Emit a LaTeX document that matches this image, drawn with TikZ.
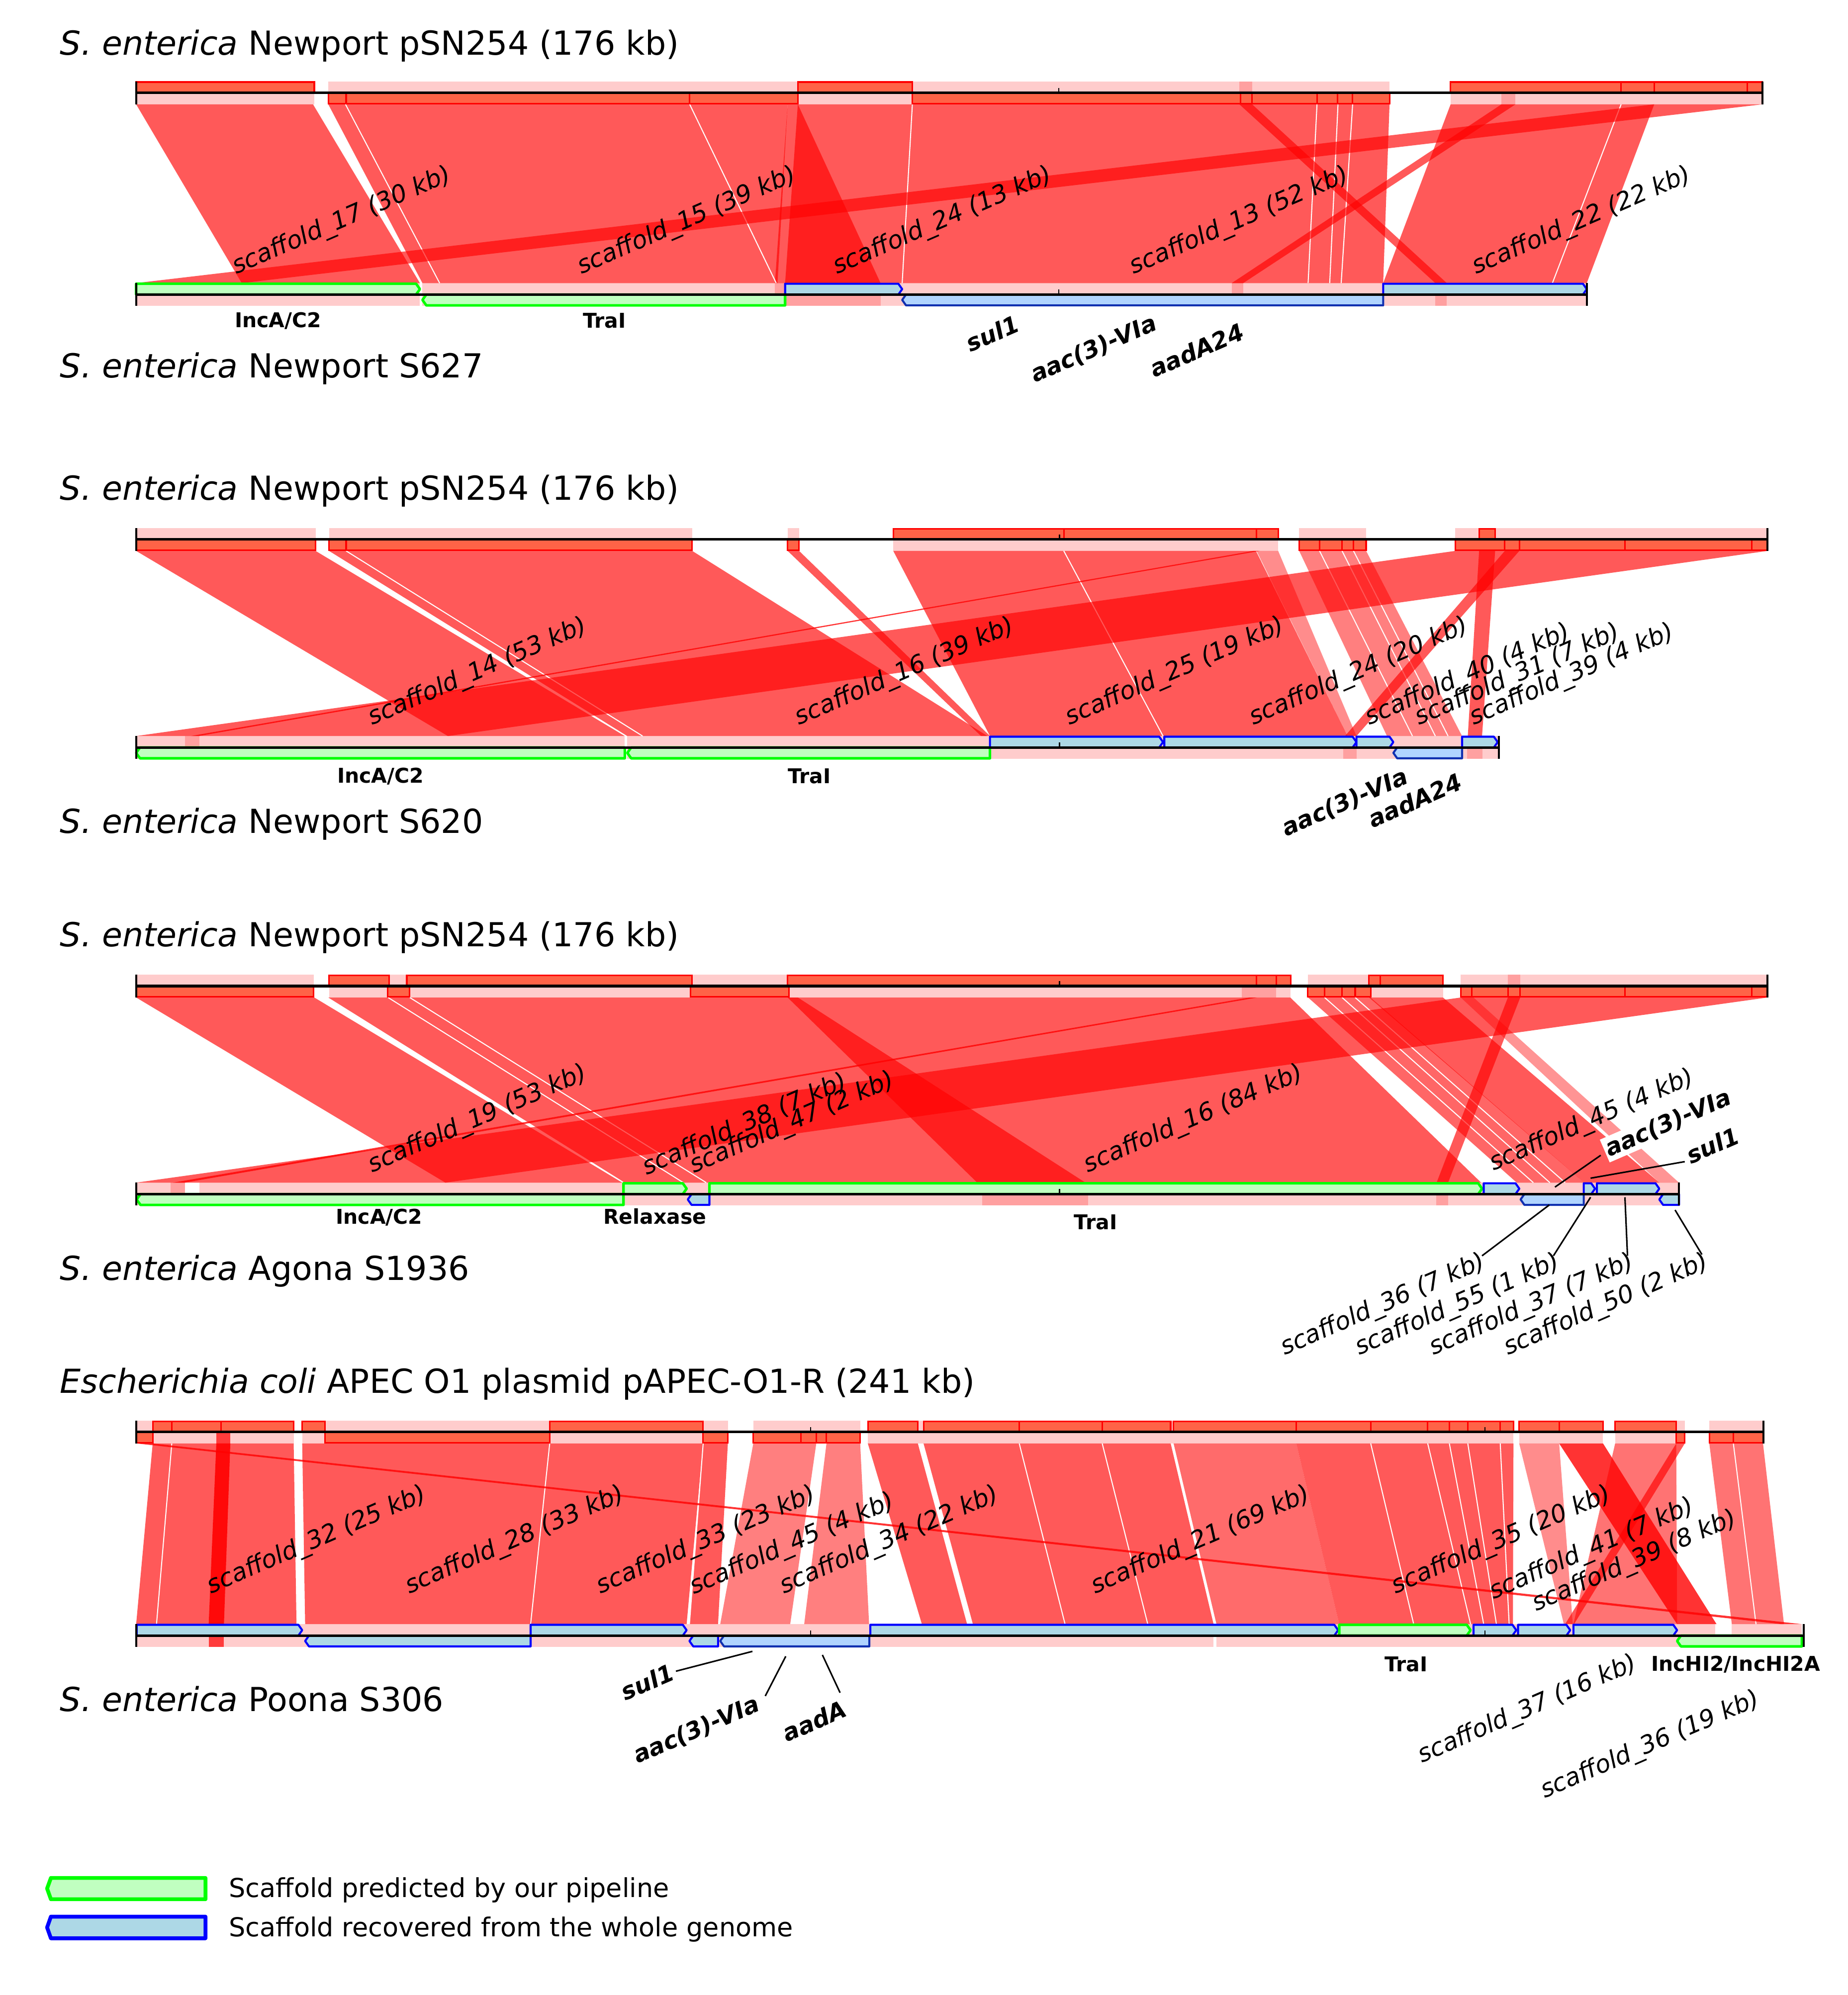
\documentclass[tikz,border=0pt]{standalone}
\usepackage{fontspec}
\setmainfont{DejaVu Sans}
\definecolor{tomatoc}{HTML}{FF6347}
\definecolor{pinkc}{HTML}{FFCCCC}
\definecolor{pinkd}{HTML}{FFA0A0}
\definecolor{gfill}{HTML}{C0FFC0}
\definecolor{gline}{HTML}{00FF00}
\definecolor{bfill}{HTML}{ADD8E6}
\definecolor{bfilltwo}{HTML}{B0D4FF}
\definecolor{bline}{HTML}{0000FF}
\definecolor{blinetwo}{HTML}{1030B0}
\tikzset{
  tblk/.style={fill=tomatoc, draw=red, line width=1.2pt},
  gblk/.style={fill=gfill, draw=gline, line width=2pt, line join=round},
  bblk/.style={fill=bfill, draw=bline, line width=1.6pt, line join=round},
  cblk/.style={fill=bfilltwo, draw=blinetwo, line width=1.6pt, line join=round},
  lnk/.style={fill=red, fill opacity=0.65},
  scl/.style={font=\fontsize{19.3}{22}\selectfont\itshape, rotate=23.5, inner sep=0pt},
  gen/.style={font=\fontsize{18.5}{22}\selectfont\bfseries\itshape, rotate=23.5, inner sep=0pt},
  gnh/.style={font=\fontsize{16}{19}\selectfont\bfseries, inner sep=0pt},
  ttl/.style={font=\fontsize{26}{30}\selectfont, anchor=base west, inner sep=0pt},
  lgd/.style={font=\fontsize{20.5}{24}\selectfont, anchor=base west, inner sep=0pt},
  leader/.style={draw=black, line width=1.2pt},
}
% top track blocks
\newcommand{\tA}[2]{\filldraw[tblk] (#1,\YA-8.5) rectangle (#2,\YA);}
\newcommand{\tB}[2]{\filldraw[tblk] (#1,\YA) rectangle (#2,\YA+8.5);}
% pink shading
\newcommand{\pkT}[2]{\fill[pinkc] (#1,\YA-9) rectangle (#2,\YA+9);}
\newcommand{\pkB}[2]{\fill[pinkc] (#1,\YB-9) rectangle (#2,\YB+9);}
\newcommand{\pkd}[4]{\fill[pinkd] (#1,#3) rectangle (#2,#4);}
% bottom track blocks
\newcommand{\gA}[2]{\filldraw[gblk] (#1,\YB-8.5) -- (#2-3,\YB-8.5) -- (#2,\YB-4.25) -- (#2-3,\YB) -- (#1,\YB) -- cycle;}
\newcommand{\gB}[2]{\filldraw[gblk] (#1+3,\YB) -- (#2,\YB) -- (#2,\YB+8.5) -- (#1+3,\YB+8.5) -- (#1,\YB+4.25) -- cycle;}
\newcommand{\bA}[2]{\filldraw[bblk] (#1,\YB-8.5) -- (#2-3,\YB-8.5) -- (#2,\YB-4.25) -- (#2-3,\YB) -- (#1,\YB) -- cycle;}
\newcommand{\bB}[2]{\filldraw[bblk] (#1+3,\YB) -- (#2,\YB) -- (#2,\YB+8.5) -- (#1+3,\YB+8.5) -- (#1,\YB+4.25) -- cycle;}
\newcommand{\bC}[2]{\filldraw[cblk] (#1+3,\YB) -- (#2,\YB) -- (#2,\YB+8.5) -- (#1+3,\YB+8.5) -- (#1,\YB+4.25) -- cycle;}
% links
\newcommand{\lk}[4]{\fill[lnk] (#1,\YA+9) -- (#2,\YA+9) -- (#4,\YB-9) -- (#3,\YB-9) -- cycle;}
\newcommand{\lko}[5]{\fill[red, fill opacity=#1] (#2,\YA+9) -- (#3,\YA+9) -- (#5,\YB-9) -- (#4,\YB-9) -- cycle;}
\newcommand{\wl}[2]{\draw[white, line width=0.8pt] (#1,\YA+9) -- (#2,\YB-9);}
% axes
\newcommand{\ax}[3]{\draw[line width=2pt] (#1,#3) -- (#2,#3); \draw[line width=1.5pt] (#1,#3-9) -- (#1,#3+9) (#2,#3-9) -- (#2,#3+9);}
\newcommand{\smt}[2]{\draw[line width=1pt] (#1,#2) -- (#1,#2-4);}
\begin{document}
\begin{tikzpicture}[x=1pt,y=-1pt]
\useasboundingbox (0,0) rectangle (1452,1568);

%================ PANEL 1 ================
\def\YA{73}\def\YB{231.5}
\node[ttl] (t1) at (47,43) {\textit{S. enterica} Newport pSN254 (176 kb)};
\node[ttl] (t2) at (47,297) {\textit{S. enterica} Newport S627};
\pkT{107}{247}\pkT{258}{627}\pkT{627}{717}\pkT{717}{1092}\pkT{1140}{1385}
\pkd{974}{984}{\YA-9}{\YA}\pkd{1180}{1191}{\YA}{\YA+9}
\pkB{107}{330}\pkB{332}{617}\pkB{617}{709}\pkB{709}{1087}\pkB{1087}{1247}
\pkd{617}{692}{\YB}{\YB+9}\pkd{609}{617}{\YB-9}{\YB}\pkd{968}{977}{\YB-9}{\YB}\pkd{1128}{1137}{\YB}{\YB+9}
\lk{107}{246}{190}{330}
\lk{258}{619}{332}{611}
\lk{619}{627}{609}{692}
\lk{627}{717}{617}{709}
\lk{717}{1092}{709}{1087}
\lk{1140}{1300}{1087}{1247}
\wl{271.5}{345.5}\wl{542}{610}\wl{717}{709}\wl{1035}{1028}\wl{1051.5}{1045}\wl{1063}{1054}\wl{1274}{1220}
\lk{974}{984}{1128}{1137}
\lk{1180}{1191}{968}{977}
\lk{1300}{1385}{107}{190}
\tA{107}{247}
\tB{258}{272}\tB{272}{542}\tB{542}{627}
\tA{627}{717}
\tB{717}{975}\tB{975}{984}\tB{984}{1035}\tB{1035}{1051}\tB{1051}{1063}\tB{1063}{1092}
\tA{1140}{1274}\tA{1274}{1300}\tA{1300}{1373}\tA{1373}{1385}
\ax{107}{1385}{\YA}\smt{832}{\YA}
\gA{107}{330}\gB{332}{617}\bA{617}{709}\bC{709}{1087}\bA{1087}{1247}
\ax{107}{1247}{\YB}\smt{832}{\YB}
\node[scl] (p1s17) at (268.7,174) {scaffold\_17 (30 kb)};
\node[scl] (p1s15) at (540,174) {scaffold\_15 (39 kb)};
\node[scl] (p1s24) at (740.8,174) {scaffold\_24 (13 kb)};
\node[scl] (p1s13) at (974,174) {scaffold\_13 (52 kb)};
\node[scl] (p1s22) at (1243,174) {scaffold\_22 (22 kb)};
\node[gnh] (p1g1) at (218.5,252) {IncA/C2};
\node[gnh] (p1g2) at (475,252) {TraI};
\node[gen] (p1g3) at (780,262) {sul1};
\node[gen] (p1g4) at (859.6,274.5) {aac(3)-VIa};
\node[gen] (p1g5) at (940.5,275) {aadA24};

%================ PANEL 2 ================
\def\YA{424}\def\YB{587.5}
\node[ttl] (t3) at (47,393) {\textit{S. enterica} Newport pSN254 (176 kb)};
\node[ttl] (t4) at (47,655) {\textit{S. enterica} Newport S620};
\pkT{107}{248}\pkT{258.6}{544}\pkT{619}{628}\pkT{702}{1004.5}\pkT{1021}{1073.6}\pkT{1143.6}{1389}
\pkB{107}{491}\pkB{493}{778}\pkB{778}{1177}
\pkd{145.5}{156.7}{\YB-9}{\YB}\pkd{1055.6}{1066}{\YB}{\YB+9}\pkd{1153}{1165}{\YB}{\YB+9}
\lk{107}{248}{352}{491}
\lk{258.6}{544}{493}{776}
\lk{619}{628}{771}{778}
\lk{702}{987}{778}{1059}
\lko{0.45}{987.5}{1004.5}{1059}{1066}
\lko{0.5}{1021}{1073.6}{1090}{1149}
\wl{272}{505}\wl{836}{914}\wl{1037}{1110}\wl{1054.7}{1128}\wl{1063.7}{1138}
\lk{1162.4}{1175}{1153.5}{1164.7}
\lk{1182.6}{1194}{1057}{1066}
\lk{1143.6}{1389}{107}{352}
\lko{0.8}{985}{990}{150}{156}
\tB{107}{248}\tB{258.6}{272}\tB{272}{544}\tB{619}{628}
\tA{702}{836}\tA{836}{987.5}\tA{987.5}{1004.5}
\tB{1021}{1037}\tB{1037}{1054.7}\tB{1054.7}{1063.7}\tB{1063.7}{1073.6}
\tA{1162.4}{1175}
\tB{1143.6}{1182.6}\tB{1182.6}{1194}\tB{1194}{1277}\tB{1277}{1376.5}\tB{1376.5}{1389}
\ax{107}{1389}{\YA}\smt{832.6}{\YA}
\gB{107}{491}\gB{493}{778}\bA{778}{914}\bA{915}{1066}\bA{1066}{1095}\bC{1095}{1149}\bA{1149}{1177}
\ax{107}{1178}{\YB}\smt{832.6}{\YB}
\node[scl] (p2s14) at (375.5,528.5) {scaffold\_14 (53 kb)};
\node[scl] (p2s16) at (711,528.4) {scaffold\_16 (39 kb)};
\node[scl] (p2s25) at (923.5,528.3) {scaffold\_25 (19 kb)};
\node[scl] (p2s24) at (1068,528.3) {scaffold\_24 (20 kb)};
\node[scl] (p2s40) at (1153.5,531) {scaffold\_40 (4 kb)};
\node[scl] (p2s31) at (1192.7,531) {scaffold\_31 (7 kb)};
\node[scl] (p2s39) at (1235.4,531) {scaffold\_39 (4 kb)};
\node[gnh] (p2g1) at (299,610) {IncA/C2};
\node[gnh] (p2g2) at (636,610) {TraI};
\node[gen] (p2g3) at (1057,631) {aac(3)-VIa};
\node[gen] (p2g4) at (1112,629) {aadA24};

%================ PANEL 3 ================
\def\YA{775}\def\YB{938.5}
\node[ttl] (t5) at (47,744) {\textit{S. enterica} Newport pSN254 (176 kb)};
\node[ttl] (t6) at (47,1006) {\textit{S. enterica} Agona S1936};
\pkT{107}{246.5}\pkT{258.6}{1014.3}\pkT{1027.8}{1134}\pkT{1148}{1389}
\pkd{976}{1003}{\YA}{\YA+9}\pkd{1185}{1194.7}{\YA-9}{\YA}
\pkB{107}{1319.5}
\fill[white] (145.5,\YB-9) rectangle (156.7,\YB);
\pkd{134}{145.5}{\YB-9}{\YB}\pkd{772}{855}{\YB}{\YB+9}\pkd{1128.8}{1138}{\YB}{\YB+9}
\lk{107}{247}{350}{489}
\lk{258}{1014}{491}{1164}
\lk{619}{627}{768}{853}
\lko{0.6}{1028}{1077}{1192}{1245}
\lk{1076}{1134}{1245}{1304}
\lko{0.42}{1148}{1158}{1304}{1319.5}
\wl{305}{537}\wl{322}{555}\wl{1041}{1205}\wl{1054.7}{1218}\wl{1065}{1230}
\lk{1185}{1194.7}{1129}{1138}
\lk{1148}{1389}{107}{350}
\lko{0.8}{982}{988}{136}{145}
\tB{107.4}{246.5}\tA{258.6}{305.7}\tB{304.8}{321.9}\tA{319.7}{544}\tB{542.7}{620}
\tA{619}{987.4}\tA{987.4}{1003}\tA{1003}{1014.3}
\tB{1027.8}{1041}\tB{1041}{1054.7}\tB{1054.7}{1065}\tB{1065}{1077.2}
\tA{1075.8}{1084.8}\tA{1084.8}{1134}
\tB{1148}{1156.6}\tB{1156.6}{1185}\tB{1185}{1194.7}\tB{1194.7}{1277}\tB{1277}{1376.5}\tB{1376.5}{1389}
\ax{107}{1389}{\YA}\smt{832.6}{\YA}
\gB{107.4}{490}\gA{490}{539.6}\bB{540.5}{557.5}\gA{557.5}{1164.7}\bA{1166}{1194}\bC{1195}{1244.6}\bA{1244.6}{1253.5}\bA{1255}{1304}\bB{1304}{1319.5}
\ax{107}{1319.5}{\YB}\smt{832.6}{\YB}
\node[scl] (p3s19) at (375.5,880) {scaffold\_19 (53 kb)};
\node[scl] (p3s38) at (585.5,884.4) {scaffold\_38 (7 kb)};
\node[scl] (p3s47) at (622.6,883) {scaffold\_47 (2 kb)};
\node[scl] (p3s16) at (938,880) {scaffold\_16 (84 kb)};
\node[scl] (p3s45) at (1251,881) {scaffold\_45 (4 kb)};
\node[gen, fill=white, inner sep=1.5pt] (p3g1) at (1311,883) {aac(3)-VIa};
\node[gen, fill=white, inner sep=1.5pt] (p3g2) at (1346,900) {sul1};
\node[gnh] (p3g3) at (298,957) {IncA/C2};
\node[gnh] (p3g4) at (514.7,956) {Relaxase};
\node[gnh] (p3g5) at (861,960.5) {TraI};
\node[scl] (p3s36) at (1087,1026) {scaffold\_36 (7 kb)};
\node[scl] (p3s55) at (1145.5,1026) {scaffold\_55 (1 kb)};
\node[scl] (p3s37) at (1203.8,1026) {scaffold\_37 (7 kb)};
\node[scl] (p3s50) at (1262.4,1026) {scaffold\_50 (2 kb)};
\coordinate (p3a1) at (1258,908); \coordinate (p3a2) at (1222,933);
\coordinate (p3b1) at (1324,913); \coordinate (p3b2) at (1250,926);
\coordinate (p3c1) at (1164.7,987); \coordinate (p3c2) at (1217.6,947);
\coordinate (p3d1) at (1220.8,987); \coordinate (p3d2) at (1250,941);
\coordinate (p3e1) at (1279,987); \coordinate (p3e2) at (1277,941);
\coordinate (p3f1) at (1337.5,986); \coordinate (p3f2) at (1316.4,951);
\draw[leader] (p3a1) -- (p3a2);
\draw[leader] (p3b1) -- (p3b2);
\draw[leader] (p3c1) -- (p3c2);
\draw[leader] (p3d1) -- (p3d2);
\draw[leader] (p3e1) -- (p3e2);
\draw[leader] (p3f1) -- (p3f2);

%================ PANEL 4 ================
\def\YA{1125.5}\def\YB{1285.5}
\node[ttl] (t7) at (47,1095) {\textit{Escherichia coli} APEC O1 plasmid pAPEC-O1-R (241 kb)};
\node[ttl] (t8) at (47,1345) {\textit{S. enterica} Poona S306};
\pkT{107}{230.8}\pkT{237.5}{572}\pkT{592}{676}\pkT{682}{1189.4}\pkT{1193.9}{1259.8}\pkT{1269.3}{1324}\pkT{1343.3}{1385.5}
\pkB{107}{953.7}\pkB{956}{1416}
\fill[white] (1348,\YB-9) rectangle (1361,\YB);
\fill[red, fill opacity=0.7] (170,\YA-9) rectangle (181,\YA+9);
\fill[red, fill opacity=0.7] (164,\YB-9) rectangle (176,\YB+9);
\lk{120}{230.8}{107}{233}
\lk{237.5}{432}{239.8}{417}
\lk{432}{552.6}{417}{539.6}
\lk{552.6}{572}{541.8}{564.3}
\lko{0.5}{592}{641.5}{566}{621}
\lko{0.5}{649.5}{676}{632}{683}
\lk{682}{721.3}{724.5}{760}
\lk{725.8}{920}{764.6}{953.7}
\lko{0.58}{922.3}{1018.8}{956}{1052.5}
\lk{1018.8}{1189.4}{1052.5}{1189}
\lko{0.45}{1193.9}{1225.3}{1229}{1236}
\lko{0.55}{1269.3}{1317.3}{1236.5}{1318}
\lko{0.55}{1343.3}{1385.5}{1361}{1402}
\wl{135}{123}\wl{432}{417}\wl{552.6}{541.8}\wl{801}{837}\wl{866.2}{902}\wl{1077.2}{1111}\wl{1122}{1155.7}\wl{1139}{1166}\wl{1153.5}{1176}\wl{1179}{1186}\wl{1362.2}{1380}
\lko{0.8}{1225.3}{1259.8}{1318}{1349}
\lk{1317.3}{1324}{1230}{1237}
\lko{0.9}{170}{181}{164}{176}
\lko{0.8}{107.4}{120}{1400}{1416}
\tB{107.4}{120}
\tA{120}{135}\tA{135}{173.8}\tA{173.8}{230.8}
\tA{237.5}{255.5}
\tB{255.5}{432}
\tA{432}{552.6}
\tB{552.6}{572}
\tB{592}{629.3}\tB{629.3}{641.5}\tB{641.5}{649.5}\tB{649.5}{676}
\tA{682}{721.3}
\tA{725.8}{801}\tA{801}{866.2}\tA{866.2}{920}
\tA{922.3}{1018.8}\tA{1018.8}{1077.2}\tA{1077.2}{1122}\tA{1122}{1139}\tA{1139}{1153.5}\tA{1153.5}{1179}\tA{1179}{1189.4}
\tA{1193.9}{1225.3}\tA{1225.3}{1259.8}
\tA{1269.3}{1317.3}
\tB{1317.3}{1324}
\tB{1343.3}{1362.2}\tB{1362.2}{1385.5}
\ax{107}{1386}{\YA}\smt{637}{\YA}\smt{1167}{\YA}
\bA{107.4}{237.5}\bB{239.8}{417}\bA{417}{539.6}\bB{541.8}{564.3}\bC{566}{683.2}\bA{684}{1051.6}\gA{1052.5}{1155.7}\bA{1158}{1191.6}\bA{1193}{1234}\bA{1236.5}{1318}\gB{1318}{1416}
\ax{107}{1417.4}{\YB}\smt{637}{\YB}\smt{1167}{\YB}
\node[scl] (p4s32) at (249,1211) {scaffold\_32 (25 kb)};
\node[scl] (p4s28) at (404.7,1211) {scaffold\_28 (33 kb)};
\node[scl] (p4s33) at (555,1211) {scaffold\_33 (23 kb)};
\node[scl] (p4s45) at (622.7,1214) {scaffold\_45 (4 kb)};
\node[scl] (p4s34) at (699,1211) {scaffold\_34 (22 kb)};
\node[scl] (p4s21) at (943.6,1211) {scaffold\_21 (69 kb)};
\node[scl] (p4s35) at (1180,1211) {scaffold\_35 (20 kb)};
\node[scl] (p4s41) at (1251,1218) {scaffold\_41 (7 kb)};
\node[scl] (p4s39) at (1284.7,1227.5) {scaffold\_39 (8 kb)};
\node[scl] (p4s37) at (1200.6,1344) {scaffold\_37 (16 kb)};
\node[scl] (p4s36) at (1297,1372) {scaffold\_36 (19 kb)};
\node[gnh] (p4g1) at (1105,1308) {TraI};
\node[gnh] (p4g2) at (1364,1308) {IncHI2/IncHI2A};
\node[gen] (p4g3) at (508.7,1322) {sul1};
\node[gen] (p4g4) at (547.4,1359.8) {aac(3)-VIa};
\node[gen] (p4g5) at (640,1352.6) {aadA};
\coordinate (p4a1) at (531.2,1313.5); \coordinate (p4a2) at (591.3,1297.9);
\coordinate (p4b1) at (601.4,1333); \coordinate (p4b2) at (617.5,1301.8);
\coordinate (p4c1) at (660.2,1330.4); \coordinate (p4c2) at (646.3,1300.7);
\draw[leader] (p4a1) -- (p4a2);
\draw[leader] (p4b1) -- (p4b2);
\draw[leader] (p4c1) -- (p4c2);

%================ LEGEND ================
\filldraw[gblk, line width=3pt] (40,1476) -- (161.5,1476) -- (161.5,1492.7) -- (40,1492.7) -- (37,1484.3) -- cycle;
\filldraw[bblk, line width=3pt] (40,1506.4) -- (161.5,1506.4) -- (161.5,1523.4) -- (40,1523.4) -- (37,1514.9) -- cycle;
\node[lgd] (lg1) at (179.8,1491) {Scaffold predicted by our pipeline};
\node[lgd] (lg2) at (179.8,1522) {Scaffold recovered from the whole genome};
\end{tikzpicture}
\end{document}
